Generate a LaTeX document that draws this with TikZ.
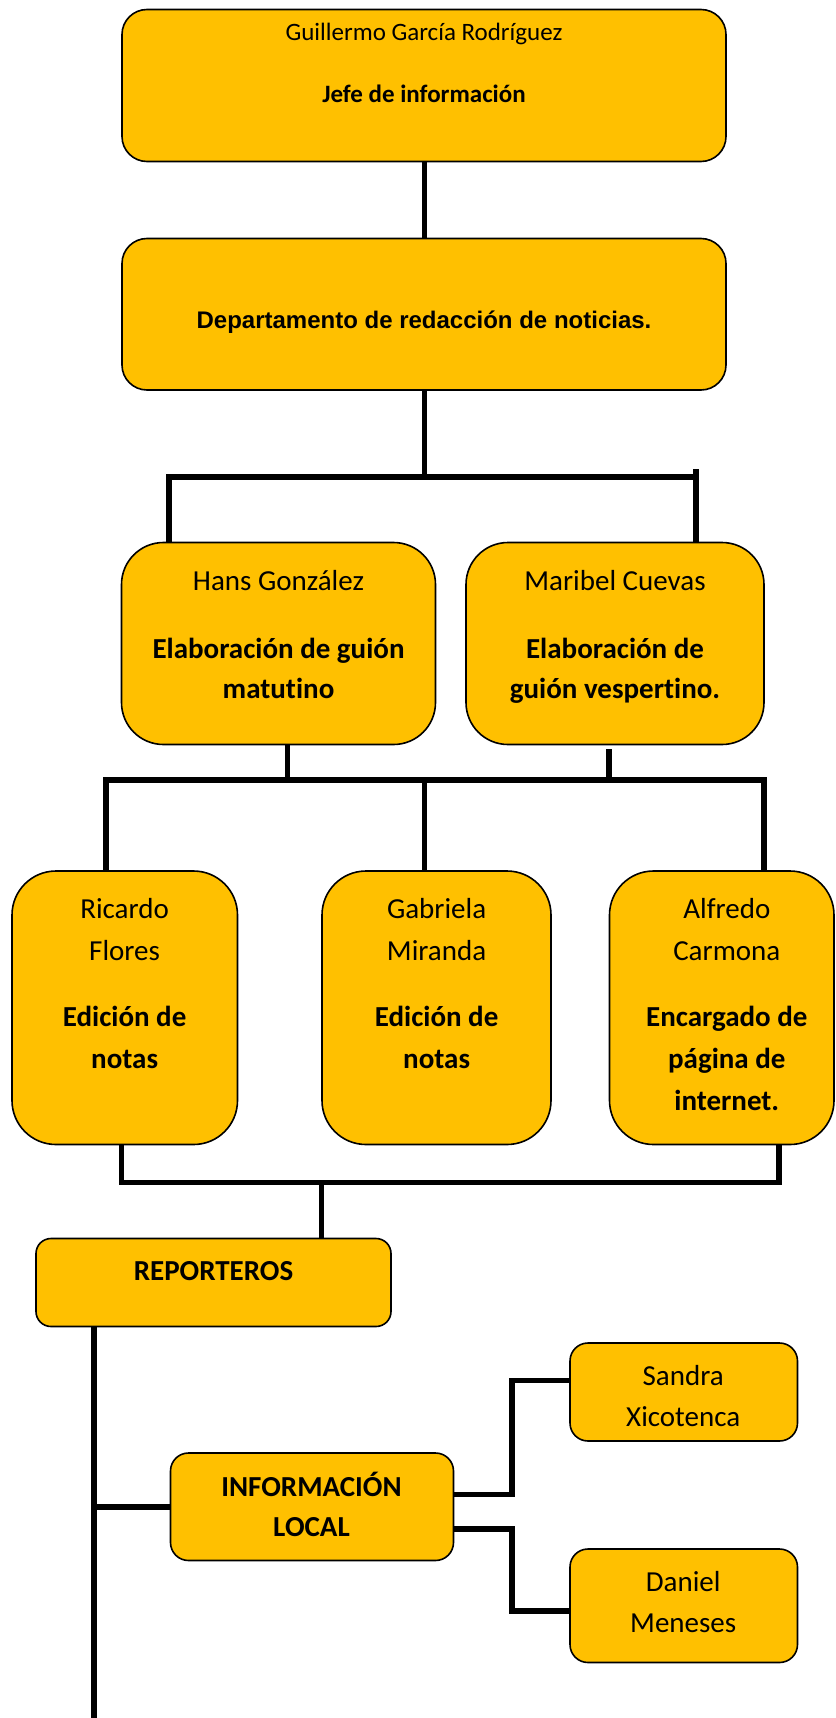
\documentclass[tikz,border=0pt]{standalone}
\usepackage{fontspec}
\setmainfont{Carlito}[Ligatures={NoCommon}]
\newfontfamily\arialfont{Liberation Sans}
\definecolor{gold}{HTML}{FFC000}
\newcommand\bx[6]{\node[box=#6, minimum width={(#4)-(#2)}, minimum height={(#5)-(#3)}] (#1) at (#2,#3) {};}
\newcommand\tl[5]{\node[txt, font=\fontsize{#1}{#1}\selectfont] (#2) at (#3,#4) {#5};}
\begin{document}
\begin{tikzpicture}[x=1pt,y=-1pt,
  box/.style={draw=black, line width=1.6pt, fill=gold, rounded corners=#1, inner sep=0pt, outer sep=0pt, anchor=north west},
  txt/.style={anchor=base, inner sep=0pt},
  link/.style={line width=5.5pt, draw=black}]
\useasboundingbox (0,0) rectangle (835,1718);
% boxes
\bx{b1}{122}{9.5}{726}{161.5}{25pt}
\bx{b2}{122}{238.5}{726}{390}{25pt}
\bx{hans}{121.5}{542.5}{435.5}{744.5}{42pt}
\bx{mar}{466}{542.5}{764}{744.5}{42pt}
\bx{ric}{12}{871}{237.5}{1144.5}{44pt}
\bx{gab}{322}{871}{551}{1144.5}{44pt}
\bx{alf}{609.5}{871}{834}{1144.5}{44pt}
\bx{rep}{36}{1238.5}{391}{1326.5}{15pt}
\bx{info}{170.5}{1453}{453.5}{1560.5}{18pt}
\bx{san}{570}{1343}{797.5}{1441}{18pt}
\bx{dan}{570}{1549}{797.5}{1662.5}{18pt}
% connectors
\coordinate (j1) at (424.5,477);
\coordinate (jL) at (169,477);
\coordinate (jR) at (696,477);
\coordinate (jRt) at (696,469);
\draw[link] (b1.south -| j1) -- (b2.north -| j1);
\draw[link] (b2.south -| j1) -- (j1);
\draw[link] (jL |- hans.north) -- (jL) -- (jR);
\draw[link] (jRt) -- (jR |- mar.north);
\coordinate (k1) at (287.5,780);
\coordinate (k2) at (609,780);
\coordinate (kL) at (106,780);
\coordinate (kM) at (424.5,780);
\coordinate (kR) at (764,780);
\draw[link] (hans.south -| k1) -- (k1);
\draw[link] (609,749) coordinate (k2t) -- (k2);
\draw[link] (ric.north -| kL) -- (kL) -- (kR) -- (alf.north -| kR);
\draw[link] (kM) -- (gab.north -| kM);
\coordinate (m1) at (121.5,1182.5);
\coordinate (m2) at (779,1182.5);
\coordinate (mM) at (321.5,1182.5);
\draw[link] (ric.south -| m1) -- (m1) -- (m2) -- (alf.south -| m2);
\draw[link] (mM) -- (rep.north -| mM);
\coordinate (trunkEnd) at (94.2,1718);
\draw[link] (rep.south -| trunkEnd) -- (trunkEnd);
\coordinate (ti) at (94.2,1507);
\draw[link] (ti) -- (info.west |- ti);
\coordinate (e1) at (512,1494.5);
\coordinate (e2) at (512,1380.5);
\coordinate (e3) at (512,1529);
\coordinate (e4) at (512,1611);
\draw[link] (info.east |- e1) -- (e1) -- (e2) -- (san.west |- e2);
\draw[link] (info.east |- e3) -- (e3) -- (e4) -- (dan.west |- e4);
% texts
\tl{25}{t1a}{424}{40.7}{Guillermo García Rodríguez}
\tl{25}{t1b}{424}{103}{\bfseries Jefe de información}
\node[txt, font=\arialfont\bfseries\fontsize{24}{24}\selectfont] (t2a) at (424,328) {Departamento de redacción de noticias.};
\tl{29}{th1}{278.5}{590}{Hans González}
\tl{29}{th2}{278.5}{658.3}{\bfseries Elaboración de guión}
\tl{29}{th3}{278.5}{698.3}{\bfseries matutino}
\tl{29}{tm1}{615}{590}{Maribel Cuevas}
\tl{29}{tm2}{615}{658.3}{\bfseries Elaboración de}
\tl{29}{tm3}{615}{698.3}{\bfseries guión vespertino.}
\tl{29}{tr1}{124.6}{918.3}{Ricardo}
\tl{29}{tr2}{124.6}{960}{Flores}
\tl{29}{tr3}{124.6}{1026.7}{\bfseries Edición de}
\tl{29}{tr4}{124.6}{1068.3}{\bfseries notas}
\tl{29}{tg1}{436.6}{918.3}{Gabriela}
\tl{29}{tg2}{436.6}{960}{Miranda}
\tl{29}{tg3}{436.6}{1026.7}{\bfseries Edición de}
\tl{29}{tg4}{436.6}{1068.3}{\bfseries notas}
\tl{29}{ta1}{726.8}{918.3}{Alfredo}
\tl{29}{ta2}{726.8}{960}{Carmona}
\tl{29}{ta3}{726.8}{1026.7}{\bfseries Encargado de}
\tl{29}{ta4}{726.8}{1068.3}{\bfseries página de}
\tl{29}{ta5}{726.8}{1110}{\bfseries internet.}
\tl{29}{tp1}{213.5}{1280}{\bfseries REPORTEROS}
\tl{29}{ti1}{311.5}{1496}{\bfseries INFORMACIÓN}
\tl{29}{ti2}{311.5}{1536.7}{\bfseries LOCAL}
\tl{29}{ts1}{683.2}{1385}{Sandra}
\tl{29}{ts2}{683.2}{1426}{Xicotenca}
\tl{29}{td1}{683.2}{1591.7}{Daniel}
\tl{29}{td2}{683.2}{1632.3}{Meneses}
\end{tikzpicture}
\end{document}
